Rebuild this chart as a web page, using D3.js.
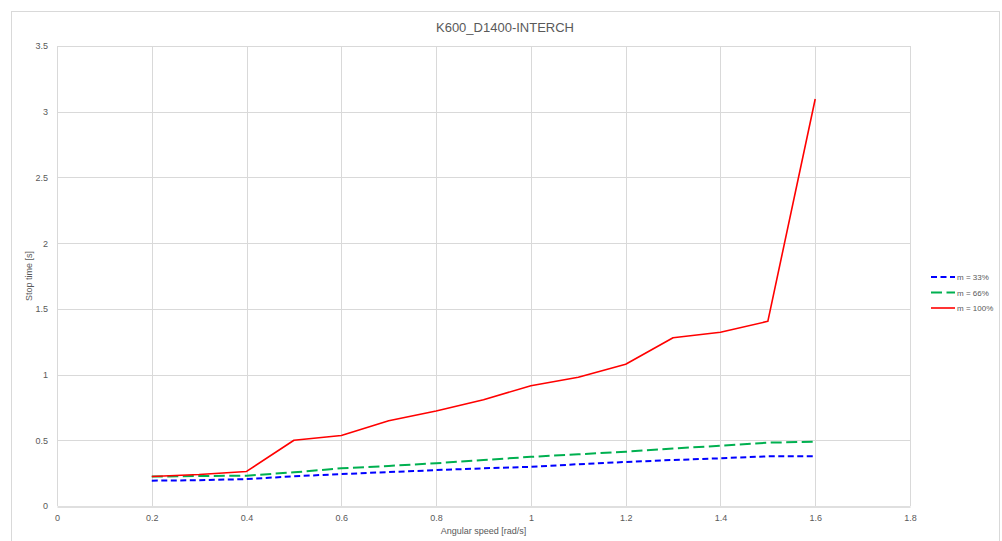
<!DOCTYPE html>
<html>
<head>
<meta charset="utf-8">
<script src="https://cdn.jsdelivr.net/npm/d3@7"></script>
<style>
  html, body { margin: 0; padding: 0; background: #fff; }
  svg { display: block; font-family: "Liberation Sans", Arial, sans-serif; }
</style>
</head>
<body>
<svg id="chart" width="1002" height="541"></svg>
<script>
const chartTitle = "K600_D1400-INTERCH";
const xTitle = "Angular speed [rad/s]";
const yTitle = "Stop time [s]";
const speeds = [0.2, 0.3, 0.4, 0.5, 0.6, 0.7, 0.8, 0.9, 1.0, 1.1, 1.2, 1.3, 1.4, 1.5, 1.6];
const m33 = [0.193, 0.196, 0.205, 0.226, 0.243, 0.258, 0.273, 0.287, 0.298, 0.318, 0.335, 0.350, 0.363, 0.378, 0.378];
const m66 = [0.224, 0.228, 0.231, 0.256, 0.287, 0.305, 0.325, 0.350, 0.374, 0.393, 0.413, 0.437, 0.459, 0.482, 0.489];
const m100 = [0.225, 0.240, 0.263, 0.500, 0.537, 0.648, 0.723, 0.808, 0.915, 0.979, 1.078, 1.280, 1.322, 1.405, 3.097];
const seriesNames = ["m = 33%", "m = 66%", "m = 100%"];
const xTicks = [0, 0.2, 0.4, 0.6, 0.8, 1, 1.2, 1.4, 1.6, 1.8];
const yTicks = [0, 0.5, 1, 1.5, 2, 2.5, 3, 3.5];

const series = [
  { name: seriesNames[0], values: m33, color: "#0000ff", width: 2, dash: "6,3.5" },
  { name: seriesNames[1], values: m66, color: "#00b050", width: 2, dash: "11,4.5" },
  { name: seriesNames[2], values: m100, color: "#ff0000", width: 1.6, dash: null }
];

const svg = d3.select("#chart");
const L = 57, R = 910, T = 46, B = 506;

// chart frame
svg.append("rect").attr("x", 11.5).attr("y", 11.5).attr("width", 988).attr("height", 540)
  .attr("fill", "#fff").attr("stroke", "#d9d9d9").attr("stroke-width", 1);

const x = d3.scaleLinear().domain([0, 1.8]).range([L, R]);
const y = d3.scaleLinear().domain([0, 3.5]).range([B, T]);

// gridlines
const g = svg.append("g");
g.selectAll(".hg").data(yTicks.filter(d => d > 0)).enter().append("line")
  .attr("x1", L).attr("x2", R)
  .attr("y1", d => Math.round(y(d)) + 0.5).attr("y2", d => Math.round(y(d)) + 0.5)
  .attr("stroke", "#d9d9d9").attr("stroke-width", 1);
g.selectAll(".vg").data(xTicks).enter().append("line")
  .attr("y1", T).attr("y2", B)
  .attr("x1", d => Math.round(x(d)) + 0.5).attr("x2", d => Math.round(x(d)) + 0.5)
  .attr("stroke", "#d9d9d9").attr("stroke-width", 1);

// axes via d3
const xAxis = svg.append("g").attr("transform", `translate(0,${Math.round(B) + 0.5})`)
  .call(d3.axisBottom(x).tickValues(xTicks).tickSize(0).tickPadding(8).tickFormat(d3.format("~g")));
xAxis.select(".domain").attr("stroke", "#bfbfbf");
xAxis.selectAll("text").attr("fill", "#595959").attr("font-size", "9px");

const yAxis = svg.append("g").attr("transform", `translate(${L - 9},0)`)
  .call(d3.axisLeft(y).tickValues(yTicks).tickSize(0).tickPadding(0).tickFormat(d3.format("~g")));
yAxis.select(".domain").remove();
yAxis.selectAll("text").attr("fill", "#595959").attr("font-size", "9px");

// titles
svg.append("text").attr("x", 505).attr("y", 32).attr("text-anchor", "middle")
  .attr("font-size", "13px").attr("fill", "#595959").text(chartTitle);
svg.append("text").attr("x", (L + R) / 2).attr("y", 534).attr("text-anchor", "middle")
  .attr("font-size", "9px").attr("fill", "#595959").text(xTitle);
svg.append("text").attr("transform", `translate(32,${(T + B) / 2}) rotate(-90)`)
  .attr("text-anchor", "middle").attr("font-size", "9px").attr("fill", "#595959").text(yTitle);

// lines
const line = d3.line().x((d, i) => x(speeds[i])).y(d => y(d));
series.forEach(s => {
  svg.append("path").datum(s.values)
    .attr("d", line).attr("fill", "none")
    .attr("stroke", s.color).attr("stroke-width", s.width)
    .attr("stroke-dasharray", s.dash)
    .attr("stroke-linejoin", "round");
});

// legend
const leg = svg.append("g");
series.forEach((s, i) => {
  const ly = 277 + i * 15.5;
  leg.append("line").attr("x1", 931).attr("x2", 955).attr("y1", ly).attr("y2", ly)
    .attr("stroke", s.color).attr("stroke-width", s.width).attr("stroke-dasharray", s.dash);
  leg.append("text").attr("x", 957).attr("y", ly + 3).attr("font-size", "8px")
    .attr("fill", "#595959").text(s.name);
});
</script>
</body>
</html>
